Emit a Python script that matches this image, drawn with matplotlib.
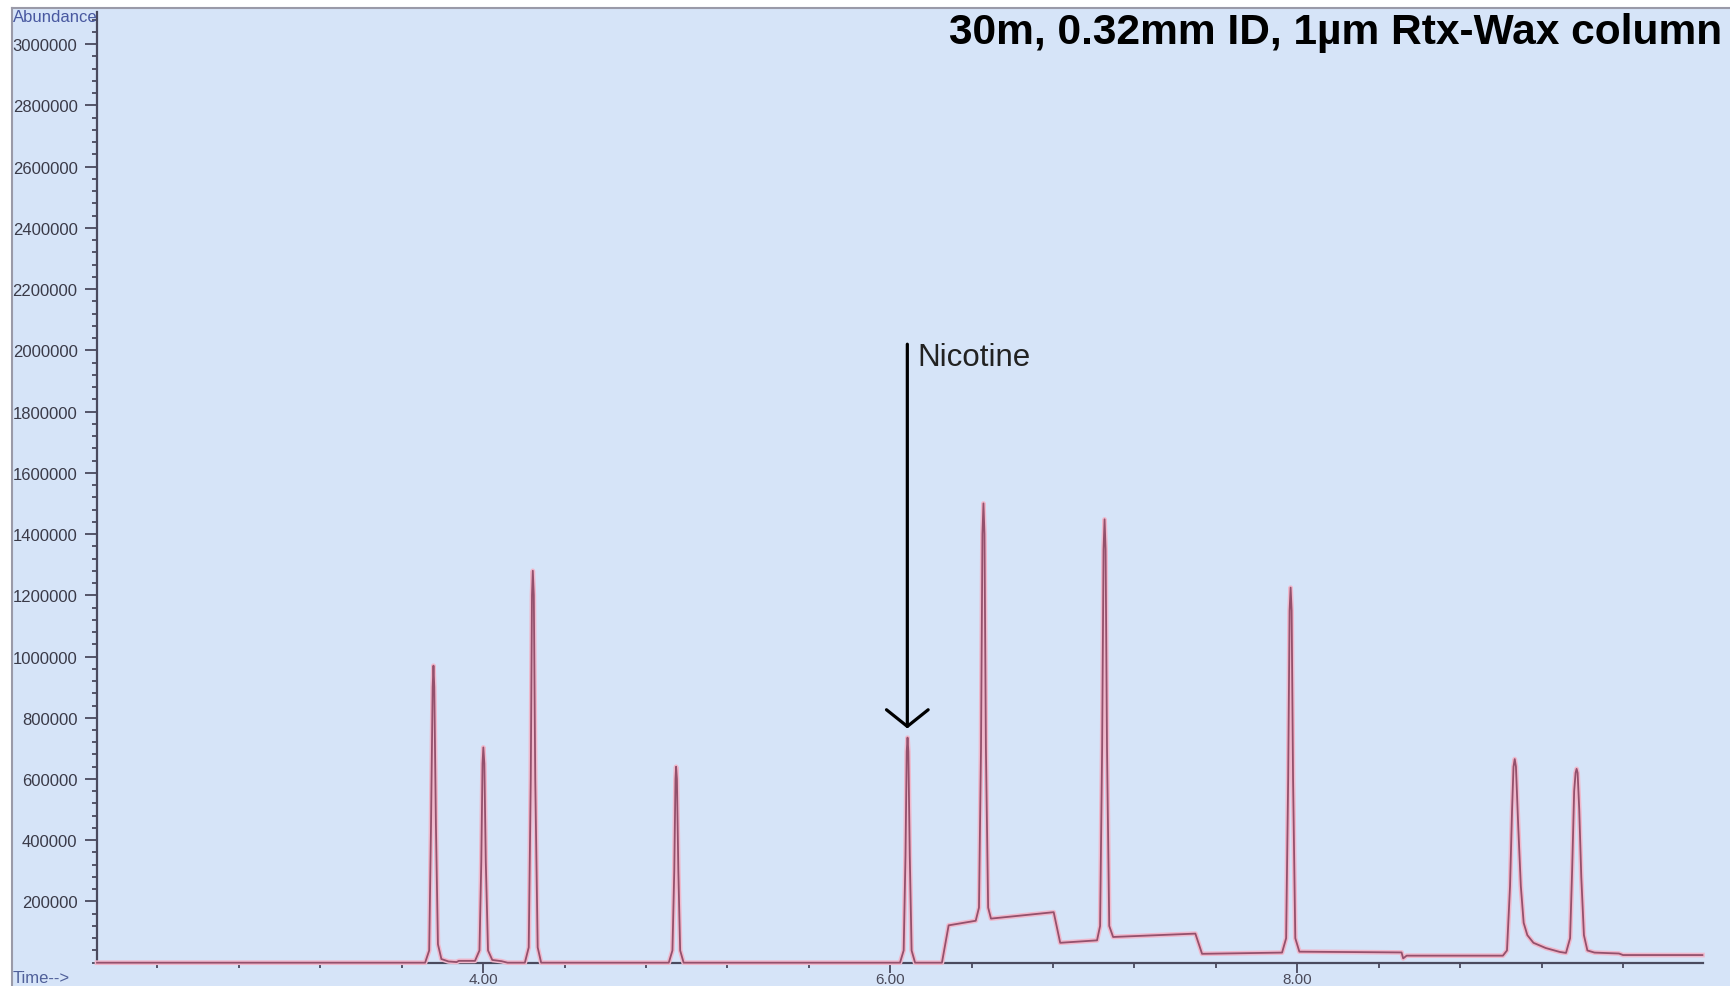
import matplotlib
matplotlib.use("Agg")
import matplotlib.pyplot as plt
from matplotlib.ticker import MultipleLocator, FixedLocator, FuncFormatter
from matplotlib.patches import Rectangle
from matplotlib.lines import Line2D

plt.rcParams['font.family'] = ['Liberation Sans', 'DejaVu Sans']

# ---- data (time in min, abundance) ----
trace_time = [
    2.103, 3.715, 3.735, 3.744, 3.752, 3.756, 3.760, 3.768, 3.778, 3.795, 3.83, 3.87,
    3.88, 3.96,
    3.982, 3.991, 3.997, 4.001, 4.006, 4.013, 4.024, 4.045, 4.09, 4.12,
    4.205, 4.224, 4.234, 4.240, 4.244, 4.249, 4.256, 4.268, 4.285,
    4.912, 4.930, 4.939, 4.945, 4.948, 4.952, 4.959, 4.968, 4.985,
    6.048, 6.066, 6.075, 6.081, 6.085, 6.089, 6.096, 6.105, 6.122,
    6.254, 6.287, 6.420,
    6.436, 6.446, 6.453, 6.458, 6.463, 6.470, 6.481, 6.495, 6.803, 6.835, 7.016,
    7.031, 7.041, 7.048, 7.053, 7.058, 7.065, 7.076, 7.095, 7.499, 7.532, 7.925,
    7.945, 7.955, 7.962, 7.967, 7.972, 7.979, 7.990, 8.010, 8.512, 8.520, 8.537, 9.010,
    9.030, 9.045, 9.055, 9.062, 9.068, 9.074, 9.085, 9.098, 9.112, 9.130, 9.160, 9.220, 9.290, 9.320,
    9.340, 9.350, 9.360, 9.367, 9.372, 9.377, 9.385, 9.395, 9.408, 9.425, 9.460, 9.580, 9.600, 9.990,
]
trace_abund = [
    0, 0, 40000, 450000, 900000, 970000, 900000, 450000, 60000, 12000, 4000, 2000,
    6000, 6000,
    40000, 330000, 650000, 703000, 650000, 330000, 40000, 9000, 5000, 0,
    0, 50000, 600000, 1200000, 1280000, 1200000, 600000, 50000, 0,
    0, 40000, 300000, 600000, 640000, 600000, 300000, 40000, 0,
    0, 40000, 350000, 690000, 735000, 690000, 350000, 40000, 0,
    0, 122000, 137000,
    180000, 700000, 1400000, 1500000, 1400000, 700000, 180000, 144000, 165000, 65000, 73000,
    120000, 700000, 1350000, 1448000, 1350000, 700000, 120000, 84000, 95000, 29000, 33000,
    80000, 600000, 1150000, 1225000, 1150000, 600000, 80000, 36000, 33500, 14000, 23000, 23000,
    40000, 250000, 500000, 640000, 665000, 640000, 450000, 250000, 130000, 90000, 65000, 48000, 35000, 32000,
    80000, 300000, 560000, 620000, 633000, 620000, 500000, 280000, 90000, 40000, 33000, 30000, 25000, 25000,
]

nicotine_label = "Nicotine"
nicotine_time = 6.084
arrow_top = 2020000
arrow_tip = 765000

title_text = "30m, 0.32mm ID, 1\u00b5m Rtx-Wax column"
x_major_ticks = [4.0, 6.0, 8.0]
x_tick_labels = ["4.00", "6.00", "8.00"]
y_major_ticks = list(range(200000, 3000001, 200000))

# ---- figure ----
W, H = 1730, 987
fig = plt.figure(figsize=(W / 100, H / 100), dpi=100, facecolor='white')
bg = '#d6e4f8'
fig.patches.append(Rectangle((12 / W, 0), 1 - 12 / W, 1 - 9 / H, transform=fig.transFigure,
                             facecolor=bg, edgecolor='none', zorder=-10))
fig.lines.append(Line2D([12 / W, 12 / W], [0, 1 - 9 / H], transform=fig.transFigure,
                        color='#9a9aa8', lw=1.5))
fig.lines.append(Line2D([12 / W, 1], [1 - 9 / H, 1 - 9 / H], transform=fig.transFigure,
                        color='#9a9aa8', lw=1.5))

x0, x1 = 97, 1703
y_bot, y_top = 963.7, 13
ax = fig.add_axes([x0 / W, (H - y_bot) / H, (x1 - x0) / W, (y_bot - y_top) / H])
ax.set_facecolor('none')
ax.set_xlim(2.103, 9.993)
ax.set_ylim(0, 3105000)

for s in ['top', 'right']:
    ax.spines[s].set_visible(False)
axis_col = '#4a4a5e'
for s in ['left', 'bottom']:
    ax.spines[s].set_color(axis_col)
    ax.spines[s].set_linewidth(1.6)

ax.xaxis.set_major_locator(FixedLocator(x_major_ticks))
ax.set_xticklabels(x_tick_labels)
ax.xaxis.set_minor_locator(MultipleLocator(0.4))
ax.yaxis.set_major_locator(FixedLocator(y_major_ticks))
ax.yaxis.set_major_formatter(FuncFormatter(lambda v, p: f"{int(v)}"))
ax.yaxis.set_minor_locator(MultipleLocator(40000))

ax.tick_params(axis='y', which='major', direction='out', length=9, width=1.3,
               color=axis_col, labelsize=12, labelcolor='#3a3a48', pad=5)
ax.tick_params(axis='y', which='minor', direction='out', length=3.5, width=1.3, color=axis_col)
ax.tick_params(axis='x', which='major', direction='out', length=7, width=1.3,
               color=axis_col, labelsize=11, labelcolor='#4a4a5a', pad=0)
ax.tick_params(axis='x', which='minor', direction='out', length=3.5, width=1.3, color=axis_col)

# chromatogram trace
ax.plot(trace_time, trace_abund, color='#f0b8cc', lw=3.4, clip_on=False, zorder=3,
        solid_joinstyle='round')
ax.plot(trace_time, trace_abund, color='#94506c', lw=1.3, clip_on=False, zorder=4,
        solid_joinstyle='round')

# nicotine arrow and label
ax.annotate('', xy=(nicotine_time, arrow_tip), xytext=(nicotine_time, arrow_top),
            arrowprops=dict(arrowstyle='->,head_length=1.2,head_width=1.5',
                            mutation_scale=10, color='black', lw=2.3,
                            shrinkA=0, shrinkB=0), zorder=6)
ax.annotate(nicotine_label, xy=(nicotine_time, arrow_top), xytext=(7, -9),
            textcoords='offset points', ha='left', va='center', fontsize=22.5,
            color='#222222')

# texts
fig.text(1722 / W, 1 - 33 / H, title_text, ha='right', va='center', fontsize=30.6,
         fontweight='bold', color='black')
fig.text(13 / W, 1 - 17 / H, "Abundance", ha='left', va='center', fontsize=12,
         color='#4858a0')
fig.text(13 / W, 1 - 979 / H, "Time-->", ha='left', va='center', fontsize=12,
         color='#50609a')

fig.savefig('out.png', dpi=100, facecolor='white')
